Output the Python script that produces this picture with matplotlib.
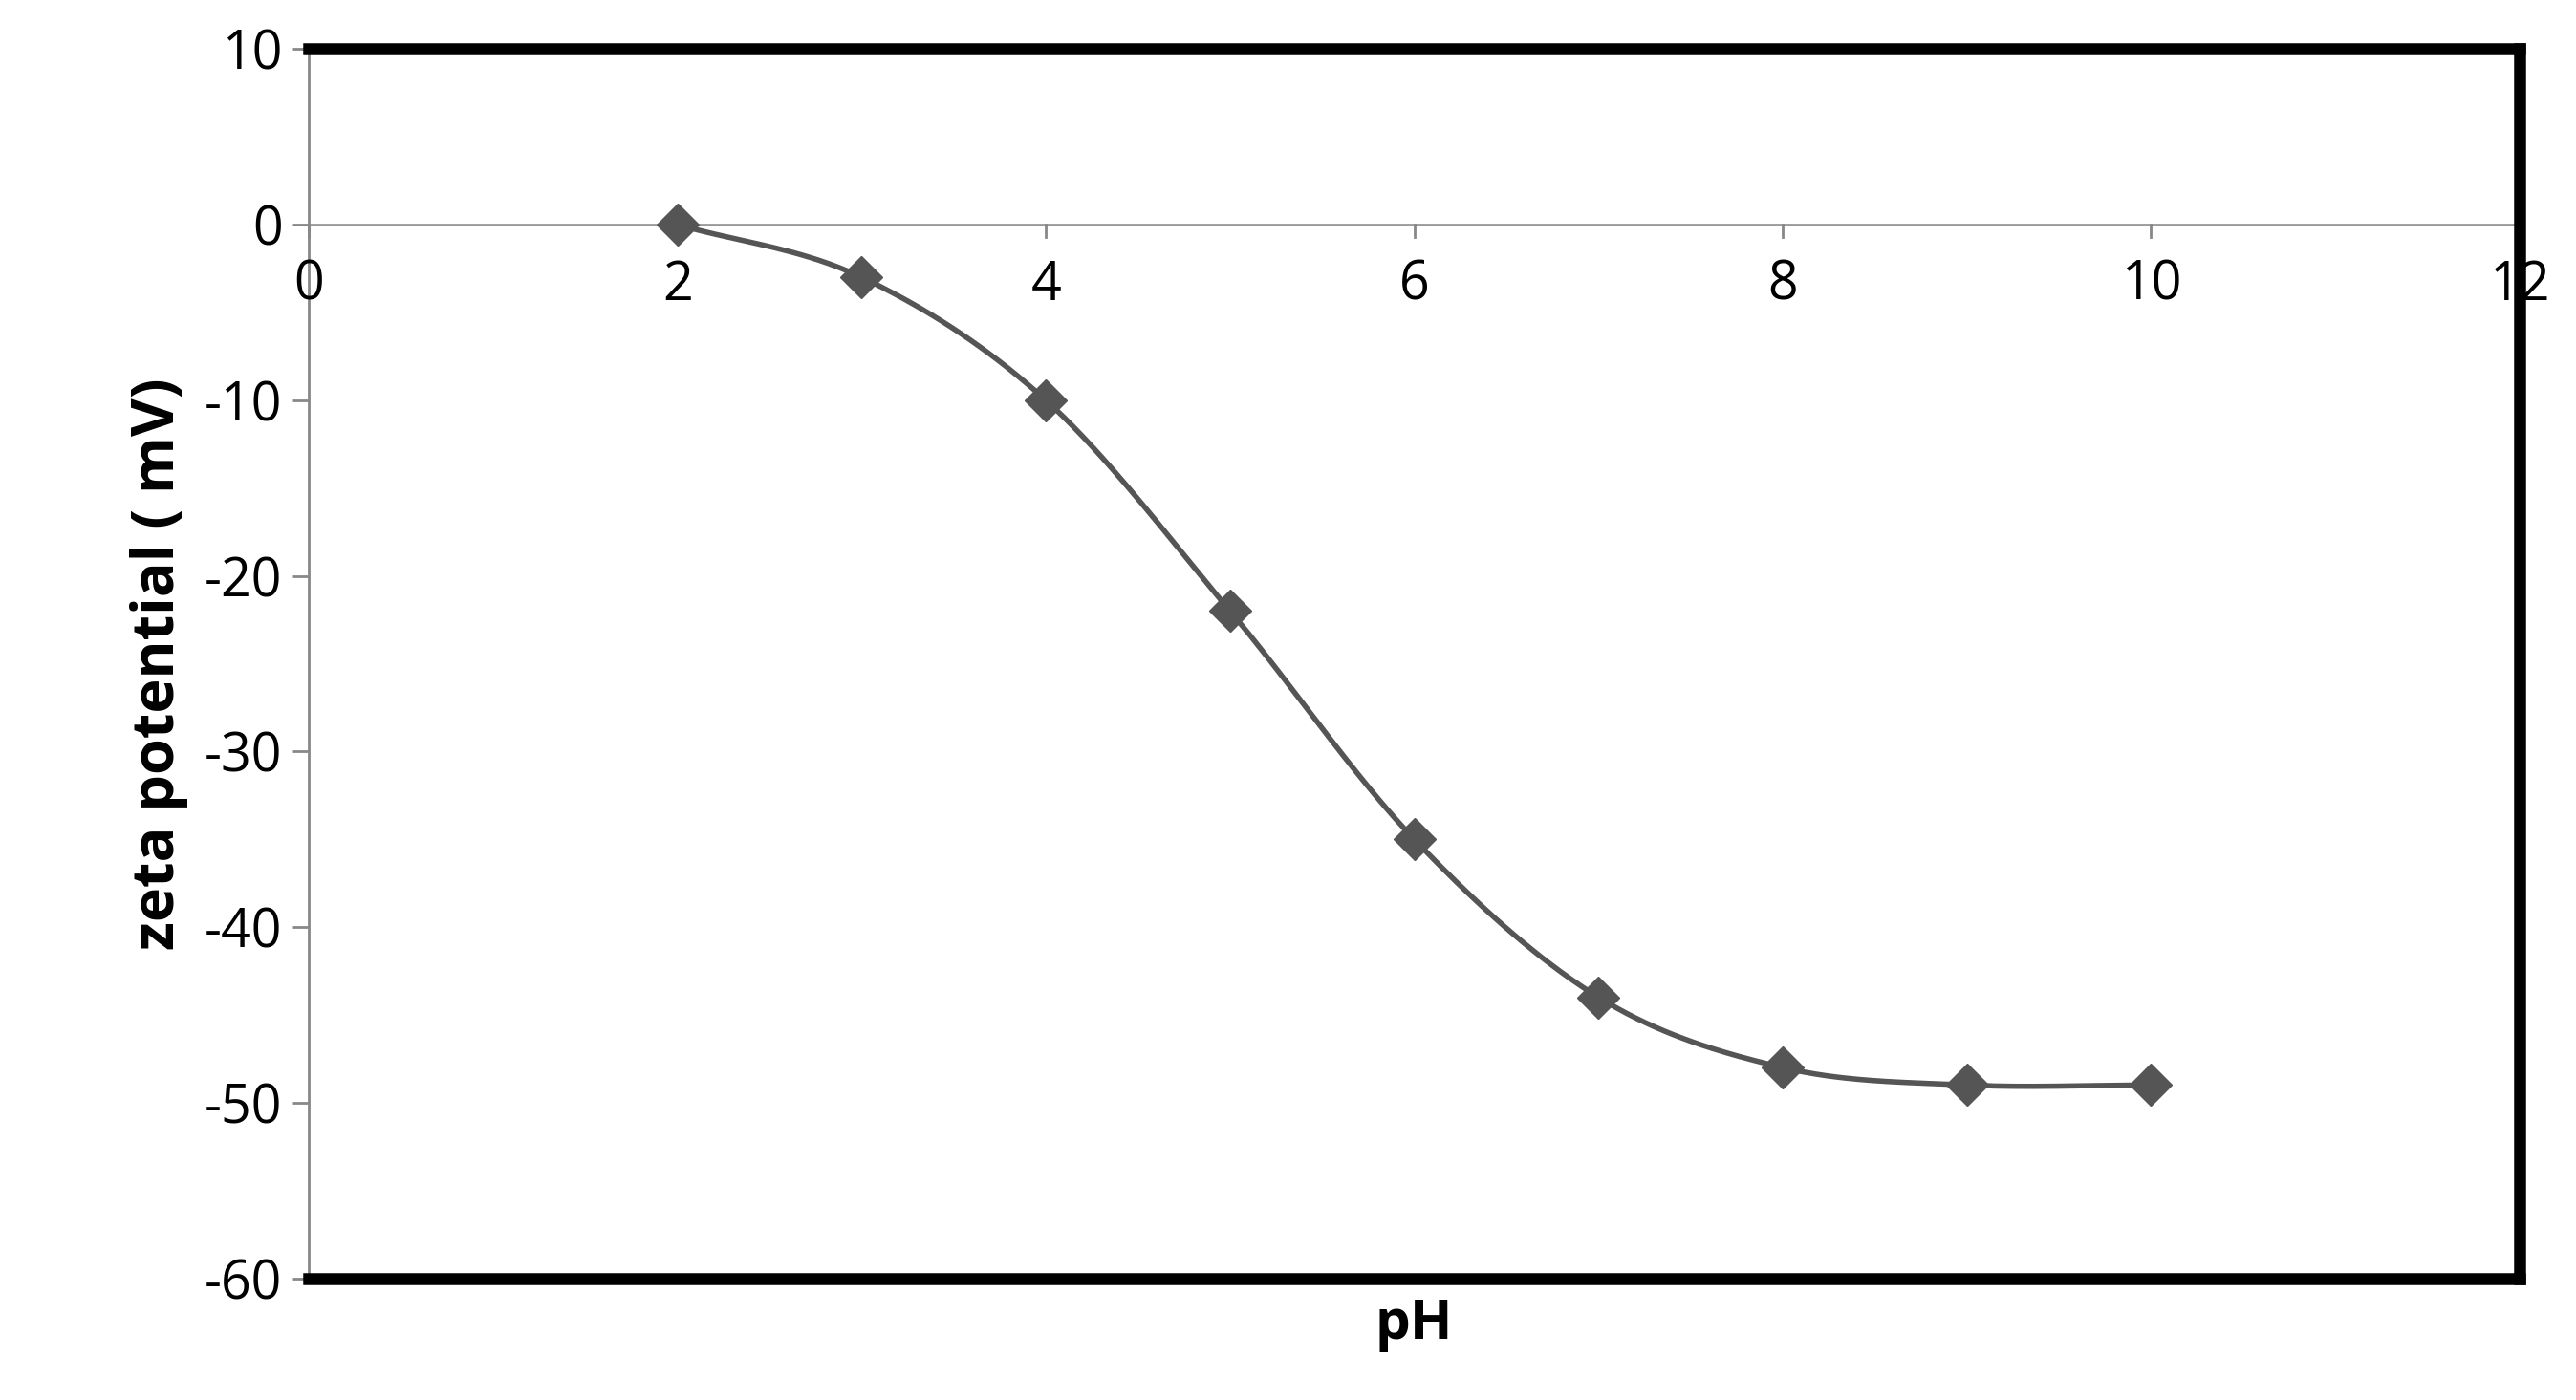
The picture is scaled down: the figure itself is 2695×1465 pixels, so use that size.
import numpy as np
import matplotlib.pyplot as plt

ph = [2, 3, 4, 5, 6, 7, 8, 9, 10]
zeta = [0, -3, -10, -22, -35, -44, -48, -49, -49]
x_ticks = [0, 2, 4, 6, 8, 10, 12]
y_ticks = [10, 0, -10, -20, -30, -40, -50, -60]


def smooth(xs, ys, n=40):
    # Catmull-Rom curve through the points, like Excel's smoothed line
    xs = np.asarray(xs, float)
    ys = np.asarray(ys, float)
    px = np.concatenate([[2 * xs[0] - xs[1]], xs, [2 * xs[-1] - xs[-2]]])
    py = np.concatenate([[2 * ys[0] - ys[1]], ys, [2 * ys[-1] - ys[-2]]])
    outx, outy = [], []
    t = np.linspace(0, 1, n)
    for i in range(1, len(px) - 2):
        for p, out in ((px, outx), (py, outy)):
            p0, p1, p2, p3 = p[i - 1:i + 3]
            out.extend(0.5 * (2 * p1 + (-p0 + p2) * t + (2 * p0 - 5 * p1 + 4 * p2 - p3) * t ** 2
                              + (-p0 + 3 * p1 - 3 * p2 + p3) * t ** 3))
    return outx, outy


plt.rcParams['font.family'] = ['Open Sans', 'DejaVu Sans']
plt.rcParams['axes.unicode_minus'] = False
fig = plt.figure(figsize=(26.95, 14.65), dpi=100)
ax = fig.add_axes([0.12, 0.087, 0.858, 0.878])

sx, sy = smooth(ph, zeta)
ax.plot(sx, sy, color='#555555', lw=4, zorder=3)
ax.plot(ph, zeta, 'D', color='#555555', ms=22, zorder=4, linestyle='none')

ax.set_xlim(0, 12)
ax.set_ylim(-60, 10)
ax.set_yticks(y_ticks)
ax.tick_params(axis='y', labelsize=40, length=12, width=2, color='#888888', pad=8)
ax.set_xticks([])

for s in ('top', 'right', 'bottom'):
    ax.spines[s].set_linewidth(9)
    ax.spines[s].set_color('black')
ax.spines['left'].set_linewidth(2)
ax.spines['left'].set_color('#888888')

# x axis crosses at y = 0, its labels sit just below that line
ax.axhline(0, color='#999999', lw=2, zorder=2)
for xt in x_ticks:
    ax.plot([xt, xt], [0, -0.7], color='#888888', lw=2, clip_on=False)
    ax.text(xt, -3.5, str(xt), fontsize=40, ha='center', va='center')

ax.set_xlabel('pH', fontsize=42, fontweight='bold', labelpad=14)
ax.set_ylabel('zeta potential ( mV)', fontsize=44, fontweight='bold', labelpad=12)

fig.savefig('out.png', dpi=100, facecolor='white')
